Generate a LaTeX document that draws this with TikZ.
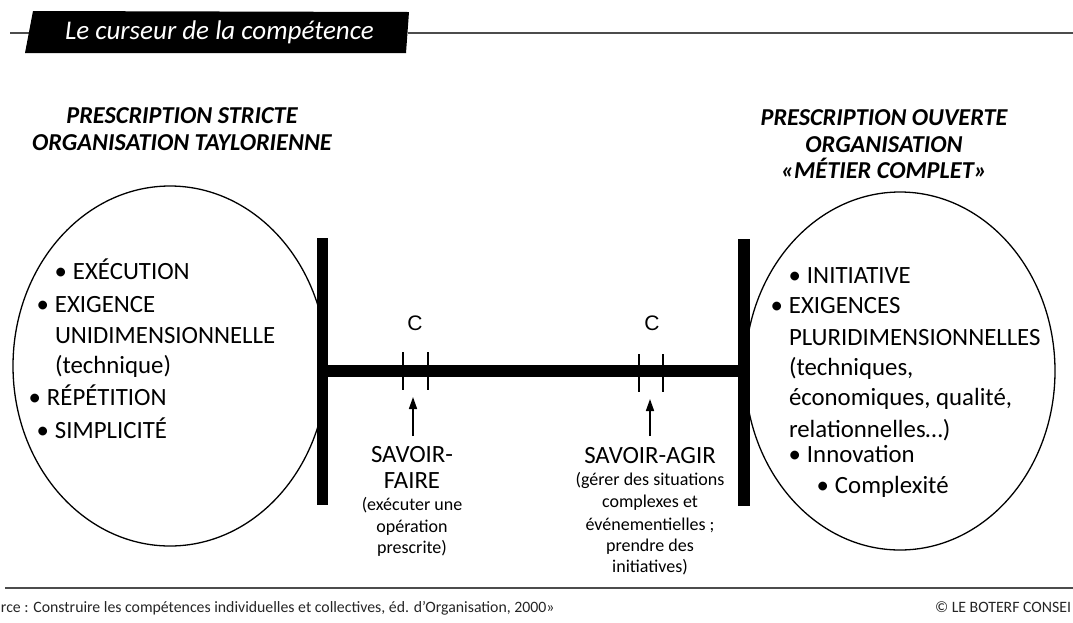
\documentclass[tikz,border=0pt]{standalone}
\usepackage{fontspec}
\setmainfont{Carlito}
\newfontfamily\arialf{Liberation Sans}
\usetikzlibrary{arrows.meta}
\newcommand{\bul}{\makebox[0pt][r]{\textbullet\hspace{6pt}}}
\tikzset{
  base/.style={inner sep=0pt, outer sep=0pt, text=black},
  big/.style={base, anchor=base west, font=\fontsize{24.8}{30}\selectfont},
  bigc/.style={base, anchor=base, font=\fontsize{24.8}{30}\selectfont},
  small/.style={base, anchor=base, font=\fontsize{18}{21}\selectfont},
  head/.style={base, anchor=base, font=\fontsize{24.3}{28}\selectfont\bfseries\itshape},
  cl/.style={base, anchor=base, font=\arialf\fontsize{21}{24}\selectfont},
  foot/.style={base, anchor=base west, font=\fontsize{15.8}{18}\selectfont, text=black!85},
  bar/.style={line width=11pt, black},
  tick/.style={line width=2pt, black},
  ell/.style={line width=1.3pt, black},
  arr/.style={line width=1.6pt, -{Triangle[length=12pt,width=8pt]}},
  rule/.style={line width=1.5pt, black!70}
}
\begin{document}
\begin{tikzpicture}[x=1pt,y=-1pt]
\useasboundingbox (0,0) rectangle (1073,622);
\fill[white] (0,0) rectangle (1073,622);
% title
\draw[rule] (10,33) -- (29,33);
\draw[rule] (408,33) -- (1073,33);
\fill[black] (33,11) -- (409,12) -- (406,53) -- (25,53) -- cycle;
\node[base, anchor=base west, text=white, font=\fontsize{27}{32}\selectfont\itshape] (title) at (65,39) {Le curseur de la compétence};
% headers
\node[head] (lh1) at (182,123) {PRESCRIPTION STRICTE};
\node[head] (lh2) at (182,150) {ORGANISATION TAYLORIENNE};
\node[head] (rh1) at (884,125) {PRESCRIPTION OUVERTE};
\node[head] (rh2) at (884,152) {ORGANISATION};
\node[head] (rh3) at (884,178) {«MÉTIER COMPLET»};
% ellipses
\draw[ell] (170,366) ellipse [x radius=157pt, y radius=180pt];
\draw[ell] (900,371) ellipse [x radius=155pt, y radius=179pt];
% bars
\draw[line width=12pt] (322,371) -- (744,371);
\draw[bar] (322.5,238) -- (322.5,505);
\draw[bar, line width=11.5pt] (744,239) -- (744,506);
\draw[tick] (403,352) -- (403,390);
\draw[tick] (428,352) -- (428,390);
\draw[tick] (639,354) -- (639,392);
\draw[tick] (663,354) -- (663,392);
\node[cl] (c1) at (415,330) {C};
\node[cl] (c2) at (652,330) {C};
% left list
\node[big] (l1) at (73,279) {\bul EXÉCUTION};
\node[big] (l2) at (55,312) {\bul EXIGENCE};
\node[big] (l3) at (55,343) {UNIDIMENSIONNELLE};
\node[big] (l4) at (55,373) {(technique)};
\node[big] (l5) at (47,405) {\bul RÉPÉTITION};
\node[big] (l6) at (55,438) {\bul SIMPLICITÉ};
% right list
\node[big] (r1) at (807,283) {\bul INITIATIVE};
\node[big] (r2) at (789,313) {\bul EXIGENCES};
\node[big] (r3) at (789,345) {PLURIDIMENSIONNELLES};
\node[big] (r4) at (789,375) {(techniques,};
\node[big] (r5) at (789,405) {économiques, qualité,};
\node[big] (r6) at (789,437) {relationnelles…)};
\node[big] (r7) at (807,462) {\bul Innovation};
\node[big] (r8) at (835,493) {\bul Complexité};
% savoir-faire
\node[bigc] (sf1) at (412,462) {SAVOIR-};
\node[bigc] (sf2) at (412,488) {FAIRE};
\node[small] (sf3) at (412,510) {(exécuter une};
\node[small] (sf4) at (412,532) {opération};
\node[small] (sf5) at (412,553) {prescrite)};
% savoir-agir
\node[bigc] (sa1) at (650,463) {SAVOIR-AGIR};
\node[small] (sa2) at (650,485) {(gérer des situations};
\node[small] (sa3) at (650,507) {complexes et};
\node[small] (sa4) at (650,530) {événementielles ;};
\node[small] (sa5) at (650,551) {prendre des};
\node[small] (sa6) at (650,572) {initiatives)};
% arrows
\coordinate (sfTail) at (413,436);
\coordinate (sfTip) at (413,397);
\coordinate (saTail) at (650,436);
\coordinate (saTip) at (650,399);
\draw[arr] (sfTail) -- (sfTip);
\draw[arr] (saTail) -- (saTip);
% footer
\draw[rule, line width=1.8pt] (5,588) -- (1073,588);
\node[foot] (f1) at (1,612) {rce : Construire les compétences individuelles et collectives, éd. d'Organisation, 2000»};
\node[foot] (f2) at (935,612) {© LE BOTERF CONSEI};
\end{tikzpicture}
\end{document}
